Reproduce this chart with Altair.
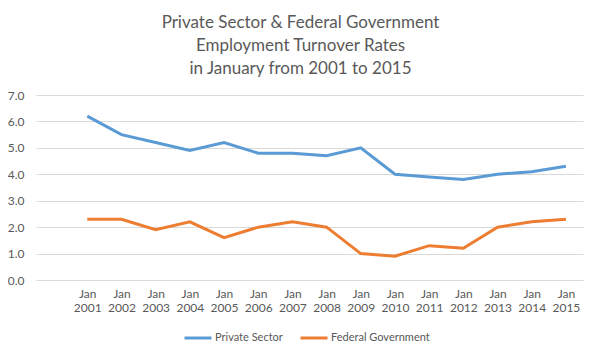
import altair as alt
import pandas as pd

years = list(range(2001, 2016))
private_sector = [6.2, 5.5, 5.2, 4.9, 5.2, 4.8, 4.8, 4.7, 5.0, 4.0, 3.9, 3.8, 4.0, 4.1, 4.3]
federal_gov = [2.3, 2.3, 1.9, 2.2, 1.6, 2.0, 2.2, 2.0, 1.0, 0.9, 1.3, 1.2, 2.0, 2.2, 2.3]
series_names = ["Private Sector", "Federal Government"]
series_colors = ["#5B9BD5", "#ED7D31"]
y_ticks = [0, 1, 2, 3, 4, 5, 6, 7]

rows = []
for y, v in zip(years, private_sector):
    rows.append({"year": y, "value": v, "series": series_names[0]})
for y, v in zip(years, federal_gov):
    rows.append({"year": y, "value": v, "series": series_names[1]})
df = pd.DataFrame(rows)

FONT = "Lato"
GRAY = "#595959"

chart = alt.Chart(df).mark_line(strokeWidth=3).encode(
    x=alt.X("year:Q",
            scale=alt.Scale(domain=[1999.5, 2015.5], nice=False, zero=False),
            axis=alt.Axis(values=years, format="d", labelExpr="['Jan', datum.label]",
                          title=None, grid=False, ticks=False, domain=False,
                          labelColor=GRAY, labelFont=FONT, labelFontSize=12,
                          labelPadding=8, labelLineHeight=14, labelFlush=False)),
    y=alt.Y("value:Q",
            scale=alt.Scale(domain=[0, 7], nice=False),
            axis=alt.Axis(values=y_ticks, format=".1f", title=None,
                          ticks=False, domain=False, gridColor="#d9d9d9",
                          labelColor=GRAY, labelFont=FONT, labelFontSize=12,
                          labelPadding=12)),
    color=alt.Color("series:N",
                    scale=alt.Scale(domain=series_names, range=series_colors),
                    sort=series_names,
                    legend=alt.Legend(title=None, orient="none", legendX=147, legendY=228,
                                      direction="horizontal", symbolType="stroke",
                                      symbolStrokeWidth=3, symbolSize=729,
                                      labelColor=GRAY, labelFont=FONT, labelFontSize=11,
                                      labelOffset=2, columnPadding=11)),
).properties(
    width=547,
    height=185,
    title=alt.TitleParams(
        text=["Private Sector & Federal Government", "Employment Turnover Rates",
              "in January from 2001 to 2015"],
        font=FONT, fontSize=17, fontWeight="normal", color=GRAY,
        lineHeight=23, anchor="middle", dx=-9, offset=11),
    autosize=alt.AutoSizeParams(type="none"),
    padding={"left": 28, "top": 87, "right": 9, "bottom": 71},
).configure_view(stroke=None)

chart.save("out.html", embed_options={"renderer": "svg", "actions": False})
